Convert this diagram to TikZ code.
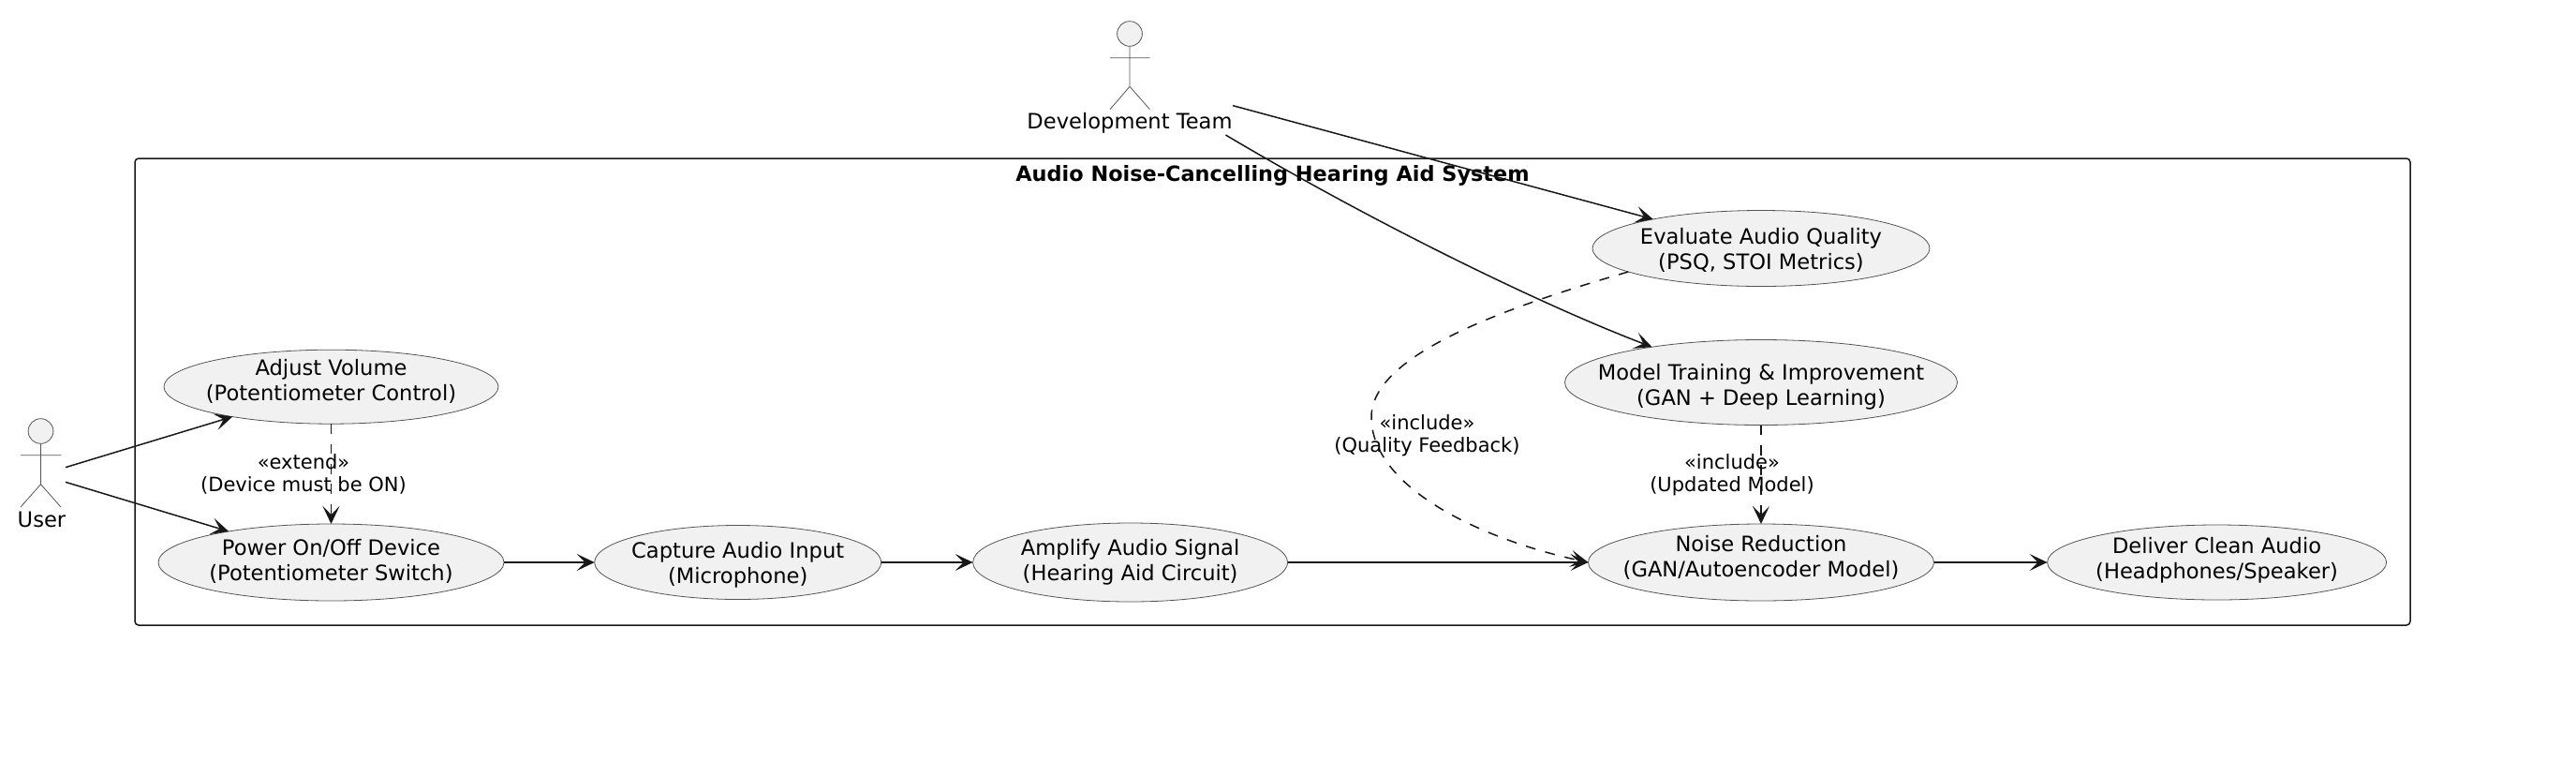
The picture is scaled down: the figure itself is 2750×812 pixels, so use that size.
\documentclass[tikz,border=0pt]{standalone}
\usepackage{fontspec}
\setmainfont{DejaVu Sans}
\usetikzlibrary{arrows.meta,shapes.geometric}
\definecolor{ink}{HTML}{181818}
\definecolor{thin}{HTML}{555555}
\definecolor{ucfill}{HTML}{F1F1F1}
\tikzset{
  usecase/.style={ellipse,draw=thin,fill=ucfill,line width=0.8pt,inner sep=0pt,outer sep=0pt},
  uctext/.style={align=center,text=black,inner sep=0pt,font=\fontsize{22.6}{27}\selectfont},
  rel/.style={draw=ink,line width=1.5pt,-{Stealth[length=19pt,width=18pt,inset=9pt]}},
  dep/.style={rel,dash pattern=on 10.7pt off 10.7pt},
  lbl/.style={align=center,text=black,inner sep=0pt,font=\fontsize{21}{24}\selectfont},
  actorlbl/.style={align=center,text=black,inner sep=0pt,font=\fontsize{22.6}{27}\selectfont},
  actorbox/.style={rectangle,inner sep=0pt,outer sep=0pt},
  stick/.style={draw=thin,line width=0.8pt},
  frame/.style={draw=ink,line width=1.5pt,rounded corners=4pt},
}
\begin{document}
\begin{tikzpicture}[x=1pt,y=-1pt]
\useasboundingbox (0,0) rectangle (2750,812);
% system frame
\draw[frame] (144,169) rectangle (2573,667);
\node[inner sep=0pt,font=\fontsize{22.4}{27}\selectfont\bfseries] (title) at (1358.5,187) {Audio Noise-Cancelling Hearing Aid System};
% actors
\node[actorbox,minimum width=52pt,minimum height=122pt] (user) at (44,506.5) {};
\draw[stick,fill=ucfill] (43.5,460) ellipse [x radius=13.4,y radius=13.3];
\draw[stick] (43.5,473.3) -- (43.5,516.7) (22,485.7) -- (65,485.7) (22,541) -- (43.5,516.7) -- (65,541);
\node[actorlbl] (userlabel) at (44.5,554) {User};
\node[actorbox,minimum width=220pt,minimum height=122pt] (dev) at (1206,83) {};
\draw[stick,fill=ucfill] (1206,36) ellipse [x radius=13.4,y radius=13.3];
\draw[stick] (1206,49.3) -- (1206,92.3) (1185,61.7) -- (1227.5,61.7) (1185,116.7) -- (1206,92.3) -- (1227.5,116.7);
\node[actorlbl] (devlabel) at (1206,131.5) {Development Team};
% use cases
\node[usecase,minimum width=357pt,minimum height=79pt,label={[uctext,yshift=5.5pt]center:{Adjust Volume\\(Potentiometer Control)}}] (adjust) at (353.5,412.7) {};
\node[usecase,minimum width=369pt,minimum height=82pt,label={[uctext,yshift=1.5pt]center:{Power On/Off Device\\(Potentiometer Switch)}}] (power) at (353.5,600) {};
\node[usecase,minimum width=306pt,minimum height=79pt,label={[uctext,yshift=-3pt]center:{Capture Audio Input\\(Microphone)}}] (capture) at (787.7,600) {};
\node[usecase,minimum width=336pt,minimum height=84pt,label={[uctext,yshift=0pt]center:{Amplify Audio Signal\\(Hearing Aid Circuit)}}] (amplify) at (1206.6,600) {};
\node[usecase,minimum width=369pt,minimum height=82pt,label={[uctext,yshift=5.5pt]center:{Noise Reduction\\(GAN/Autoencoder Model)}}] (noise) at (1880,600) {};
\node[usecase,minimum width=362pt,minimum height=80pt,label={[uctext,yshift=2.3pt]center:{Deliver Clean Audio\\(Headphones/Speaker)}}] (deliver) at (2366.6,600) {};
\node[usecase,minimum width=360pt,minimum height=81pt,label={[uctext,yshift=-1.7pt]center:{Evaluate Audio Quality\\(PSQ, STOI Metrics)}}] (evaluate) at (1880,265) {};
\node[usecase,minimum width=419pt,minimum height=91pt,label={[uctext,yshift=-5pt]center:{Model Training \& Improvement\\(GAN + Deep Learning)}}] (training) at (1880,408) {};
% connectors
\draw[rel] (user) -- (adjust);
\draw[rel] (user) -- (power);
\draw[rel] (power) -- (capture);
\draw[rel] (capture) -- (amplify);
\draw[rel] (amplify) -- (noise);
\draw[rel] (noise) -- (deliver);
\draw[rel] (dev) -- (evaluate);
\draw[rel] (dev) .. controls (1470,240) and (1650,327) .. (training.162.6);
\draw[dep] (adjust) -- (power);
\draw[dep] (training) -- (noise);
\draw[dep] (evaluate.190) .. controls (1600,330) and (1464,380) .. (1464,445) .. controls (1464,520) and (1580,575) .. (noise.west);
% connector labels
\node[lbl] (extendlabel) at (324,506) {«extend»\\(Device must be ON)};
\node[lbl] (updatedlabel) at (1849,506.5) {«include»\\(Updated Model)};
\node[lbl] (qualitylabel) at (1523.5,464.5) {«include»\\(Quality Feedback)};
\end{tikzpicture}
\end{document}
